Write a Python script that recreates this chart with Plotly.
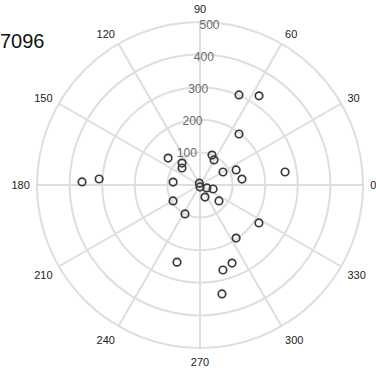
import plotly.graph_objects as go

# Observations: radius and bearing (degrees, counter-clockwise from east)
radius = [301, 328, 197, 99, 88, 81, 120, 130, 264, 128, 87, 76, 83, 362, 310,
          96, 100, 6, 6, 23, 42, 40, 76, 215, 197, 247, 259, 270, 341]
bearing = [66.6, 56.5, 52.6, 68.2, 60.8, 29.5, 22.6, 8.1, 8.7, 139.8, 129.3, 136.6,
           173.7, 178.5, 176.6, 210.6, 242.6, 110, 270, 337, 343, 292.6, 320, 327.2,
           304.2, 253.4, 292.3, 285.1, 281.4]

radial_ticks = [100, 200, 300, 400, 500]
angular_ticks = list(range(0, 360, 30))

W, H = 376, 377
cx, cy, R = 200, 185, 163

fig = go.Figure()
fig.add_trace(go.Scatterpolar(
    r=radius, theta=bearing, mode="markers",
    marker=dict(symbol="circle-open", size=7.5, color="#3a3a3a",
                line=dict(width=1.7, color="#3a3a3a")),
    hoverinfo="skip", showlegend=False,
))

fig.update_layout(
    width=W, height=H,
    margin=dict(l=0, r=0, t=0, b=0),
    paper_bgcolor="white",
    font=dict(family="Liberation Sans, Arial, sans-serif"),
    polar=dict(
        domain=dict(x=[(cx - R) / W, (cx + R) / W],
                    y=[1 - (cy + R) / H, 1 - (cy - R) / H]),
        bgcolor="white",
        radialaxis=dict(
            range=[0, 500], tickvals=radial_ticks, angle=80, tickangle=80,
            side="counterclockwise",
            showline=False, ticks="", gridcolor="#dedede", gridwidth=2,
            tickfont=dict(size=12, color="#6a6a6a"),
        ),
        angularaxis=dict(
            rotation=0, direction="counterclockwise",
            tickvals=angular_ticks, ticktext=[str(a) for a in angular_ticks],
            showline=True, linecolor="#dedede", linewidth=2,
            gridcolor="#dedede", gridwidth=2,
            ticks="outside", ticklen=4, tickcolor="rgba(0,0,0,0)",
            tickfont=dict(size=11, color="#222222"),
        ),
    ),
    annotations=[dict(
        text="7096", x=-0.004, y=1 - 41 / H, xref="paper", yref="paper",
        xanchor="left", yanchor="middle", showarrow=False,
        font=dict(size=20, color="#111111"),
    )],
)

fig.write_html("out.html")
